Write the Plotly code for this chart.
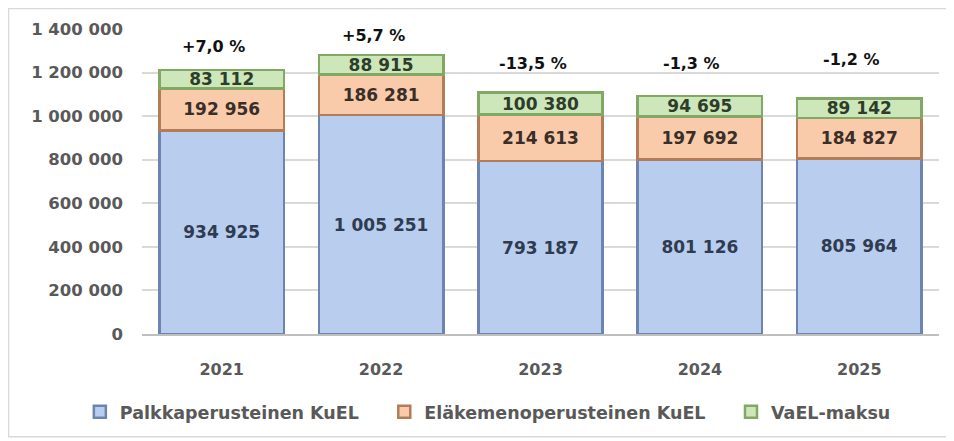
import plotly.graph_objects as go

years = ["2021", "2022", "2023", "2024", "2025"]
palkka = [934925, 1005251, 793187, 801126, 805964]
elake = [192956, 186281, 214613, 197692, 184827]
vael = [83112, 88915, 100380, 94695, 89142]
changes = ["+7,0 %", "+5,7 %", "-13,5 %", "-1,3 %", "-1,2 %"]

totals = [a + b + c for a, b, c in zip(palkka, elake, vael)]
pos = list(range(len(years)))

FONT = "DejaVu Sans"
# name, values, fill, edge, label colour, legend id, legend x
series = [
    ("Palkkaperusteinen KuEL", palkka, "#B9CDEF", "#6E84B0", "#2F3B4F", "legend", -0.078),
    ("Eläkemenoperusteinen KuEL", elake, "#F9CBAB", "#B27C58", "#3A2E28", "legend2", 0.304),
    ("VaEL-maksu", vael, "#CDE7BA", "#82A865", "#2E3D2A", "legend3", 0.739),
]

fig = go.Figure()
for name, vals, fill, edge, txt, leg, _ in series:
    fig.add_trace(go.Bar(
        name=name, x=pos, y=vals, width=0.78, legend=leg,
        marker=dict(color=fill, line=dict(color=edge, width=2.5)),
        texttemplate="%{y:,}", textposition="inside", insidetextanchor="middle",
        constraintext="none", textangle=0,
        textfont=dict(family=FONT, size=17, color=txt, weight="bold"),
    ))

# change labels above the stacks
shifts = [24, 20, 29, 32, 39]
for p, tot, lab, s in zip(pos, totals, changes, shifts):
    fig.add_annotation(x=p, y=tot, text=lab, showarrow=False, yshift=s, xshift=-8,
                       font=dict(family=FONT, size=16, color="#111111", weight="bold"))

# light outer frame
fig.add_shape(type="rect", xref="paper", yref="paper", x0=-0.1675, x1=1.016, y0=-0.3366, y1=1.067,
              line=dict(color="#D9D9D9", width=1.5), layer="below")

legend_style = dict(orientation="h", xanchor="left", y=-0.2516, yanchor="middle",
                    font=dict(family=FONT, size=17.5, color="#595959", weight="bold"),
                    itemwidth=30, bgcolor="rgba(0,0,0,0)")

fig.update_layout(
    barmode="stack",
    width=946, height=433,
    margin=dict(l=134, r=15, t=21, b=106),
    paper_bgcolor="white", plot_bgcolor="white",
    separators=", ",
    font=dict(family=FONT, color="#595959"),
    showlegend=True,
    legend=dict(x=series[0][6], **legend_style),
    legend2=dict(x=series[1][6], **legend_style),
    legend3=dict(x=series[2][6], **legend_style),
    xaxis=dict(range=[-0.5, len(years) - 0.5], tickvals=pos, ticktext=years,
               showgrid=False, zeroline=False, automargin=False,
               showline=True, linecolor="#BFBFBF", linewidth=1.5, ticks="",
               ticklabelstandoff=20,
               tickfont=dict(family=FONT, size=16, color="#595959", weight="bold")),
    yaxis=dict(range=[0, 1400000], dtick=200000, tickformat=",d", automargin=False,
               showgrid=True, gridcolor="#D9D9D9", gridwidth=1.5, zeroline=False,
               ticklabelstandoff=18,
               tickfont=dict(family=FONT, size=16.5, color="#595959", weight="bold")),
)

fig.write_html("out.html")
